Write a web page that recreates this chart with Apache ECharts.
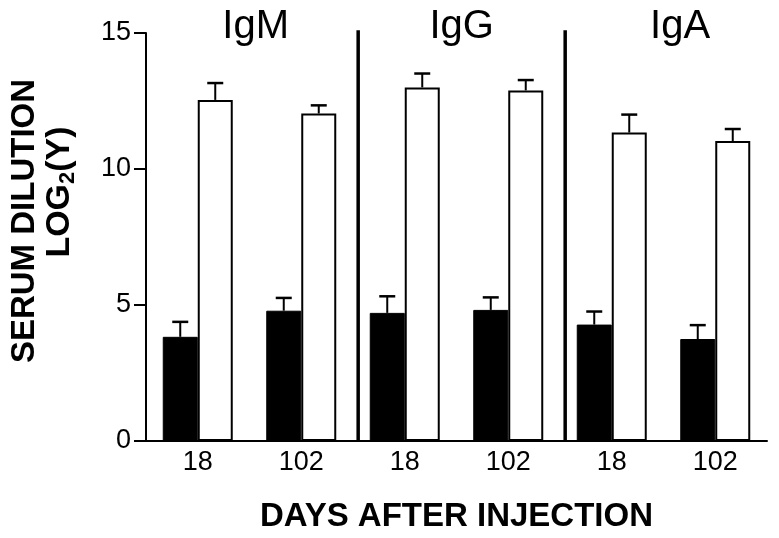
<!DOCTYPE html>
<html>
<head>
<meta charset="utf-8">
<script src="https://cdn.jsdelivr.net/npm/echarts@6/dist/echarts.min.js"></script>
<style>html,body{margin:0;padding:0;background:#fff}#c{width:779px;height:538px}</style>
</head>
<body>
<div id="c"></div>
<script>
// ---- data ----
const categories = ['18', '102', '18', '102', '18', '102'];
const blackVals = [3.83, 4.79, 4.71, 4.82, 4.28, 3.75];
const blackErr  = [0.55, 0.47, 0.61, 0.46, 0.48, 0.51];
const whiteVals = [12.54, 12.04, 13.00, 12.89, 11.34, 11.03];
const whiteErr  = [0.62, 0.30, 0.51, 0.38, 0.66, 0.44];
const panelNames = ['IgM', 'IgG', 'IgA'];
const panelNamePos = [0.56, 2.55, 4.66];
const separatorPos = [1.55, 3.55];
const separatorTop = 15.1;

const FONT = '"Liberation Sans", Arial, Helvetica, sans-serif';
const BAR_W = 35;

function errItem(side) {
  return function (params, api) {
    const i = api.value(0);
    const v = api.value(1);
    const e = api.value(2);
    const base = api.coord([i, v]);
    const top = api.coord([i, v + e]);
    const x = base[0] + side * BAR_W / 2;
    return {
      type: 'group',
      children: [
        { type: 'line', shape: { x1: x, y1: base[1], x2: x, y2: top[1] }, style: { stroke: '#000', lineWidth: 2 } },
        { type: 'line', shape: { x1: x - 8, y1: top[1], x2: x + 8, y2: top[1] }, style: { stroke: '#000', lineWidth: 2.5 } }
      ]
    };
  };
}

const chart = echarts.init(document.getElementById('c'));
chart.setOption({
  animation: false,
  backgroundColor: '#fff',
  grid: { left: 146, right: 12, top: 33, bottom: 94, containLabel: false },
  xAxis: [
    {
      type: 'category', data: categories,
      axisLine: { onZero: false, lineStyle: { color: '#000', width: 2 } },
      axisTick: { show: false },
      axisLabel: { color: '#000', fontFamily: FONT, fontSize: 27, margin: 8 },
      name: 'DAYS AFTER INJECTION', nameLocation: 'middle', nameGap: 59,
      nameTextStyle: { color: '#000', fontFamily: FONT, fontSize: 33, fontWeight: 'bold' }
    },
    { type: 'value', min: -0.5, max: 5.5, show: false }
  ],
  yAxis: {
    type: 'value', min: 0, max: 15, interval: 5,
    axisLine: { show: true, onZero: false, lineStyle: { color: '#000', width: 2 } },
    axisTick: { show: true, length: 12, lineStyle: { color: '#000', width: 2 } },
    axisLabel: { color: '#000', fontFamily: FONT, fontSize: 27, margin: 15 },
    splitLine: { show: false }
  },
  graphic: [
    { type: 'text', x: 25, y: 221, rotation: Math.PI / 2,
      style: { text: 'SERUM DILUTION', font: 'bold 33px ' + FONT, fill: '#000', align: 'center', verticalAlign: 'middle' } },
    { type: 'text', x: 60, y: 192, rotation: Math.PI / 2,
      style: { text: '{a|LOG}{b|2}{a|(Y)}', fill: '#000', align: 'center', verticalAlign: 'middle',
        rich: { a: { font: 'bold 34px ' + FONT, fill: '#000' }, b: { font: 'bold 22px ' + FONT, fill: '#000', padding: [15, 0, 0, 0] } } } }
  ],
  series: [
    { type: 'bar', data: blackVals, barWidth: BAR_W, barGap: '0%',
      itemStyle: { color: '#000', borderColor: '#000', borderWidth: 1 } },
    { type: 'bar', data: whiteVals, barWidth: BAR_W, barGap: '0%',
      itemStyle: { color: '#fff', borderColor: '#000', borderWidth: 2 } },
    { type: 'custom', renderItem: errItem(-1), z: 5,
      data: blackVals.map((v, i) => [i, v, blackErr[i]]) },
    { type: 'custom', renderItem: errItem(1), z: 5,
      data: whiteVals.map((v, i) => [i, v, whiteErr[i]]) },
    { type: 'custom', xAxisIndex: 1, clip: false, z: 6,
      data: separatorPos.map(p => [p, 0, separatorTop]),
      renderItem: function (params, api) {
        const a = api.coord([api.value(0), api.value(1)]);
        const b = api.coord([api.value(0), api.value(2)]);
        return { type: 'line', shape: { x1: a[0], y1: a[1], x2: b[0], y2: b[1] }, style: { stroke: '#000', lineWidth: 3.5 } };
      } },
    { type: 'custom', xAxisIndex: 1, clip: false,
      data: panelNames.map((n, i) => [panelNamePos[i], 15.22]),
      renderItem: function (params, api) {
        const p = api.coord([api.value(0), api.value(1)]);
        return { type: 'text', x: p[0], y: p[1],
          style: { text: panelNames[params.dataIndex], font: '40px ' + FONT, fill: '#000', align: 'center', verticalAlign: 'middle' } };
      } }
  ]
});
</script>
</body>
</html>
